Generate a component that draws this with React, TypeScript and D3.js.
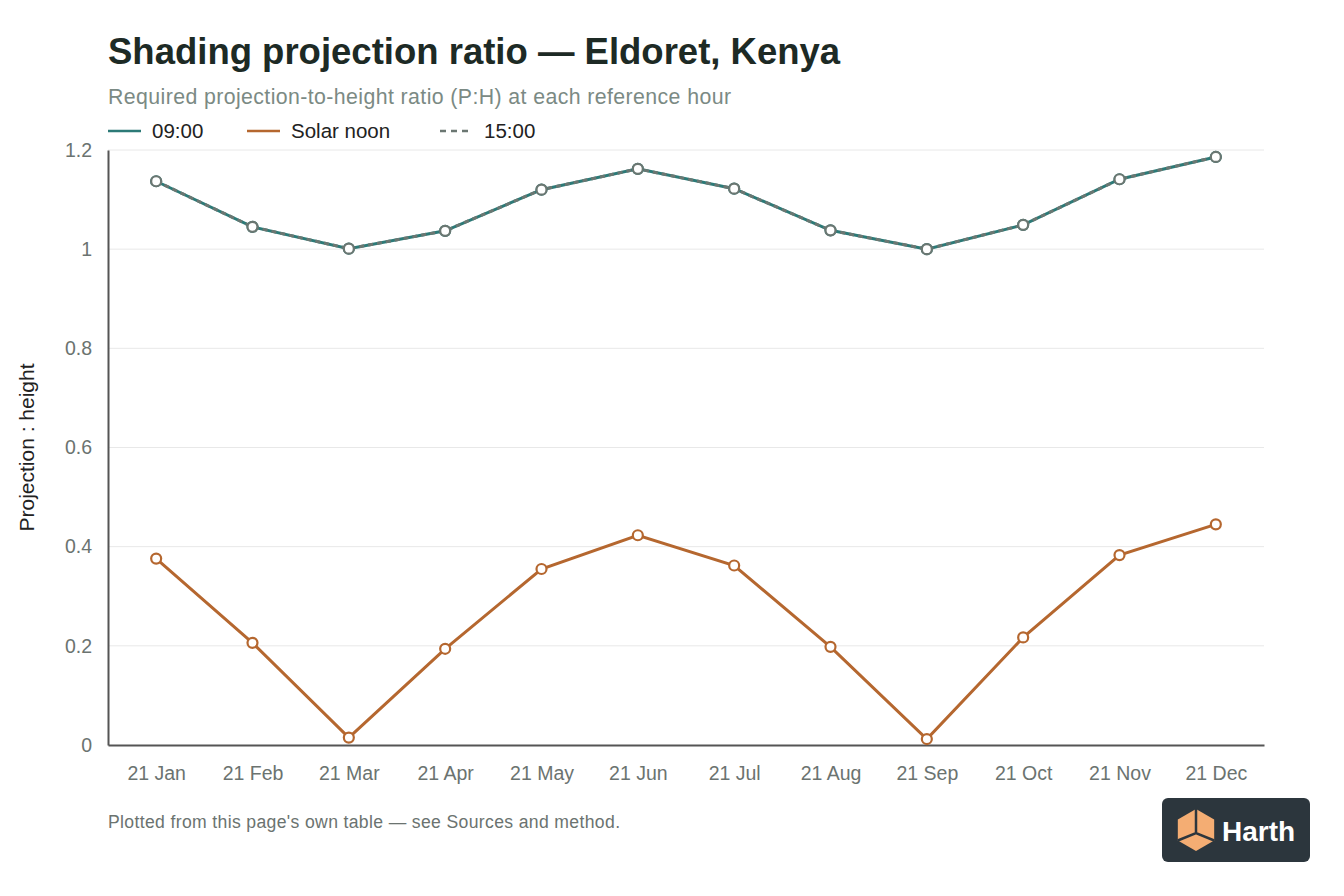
import { useEffect, useRef } from 'react'
import * as d3 from 'd3'

const MONTHS = ['21 Jan', '21 Feb', '21 Mar', '21 Apr', '21 May', '21 Jun', '21 Jul', '21 Aug', '21 Sep', '21 Oct', '21 Nov', '21 Dec']
const MORNING = [1.137, 1.045, 1.001, 1.037, 1.12, 1.162, 1.122, 1.038, 1.0, 1.049, 1.141, 1.186]
const NOON = [0.376, 0.206, 0.015, 0.194, 0.355, 0.423, 0.362, 0.198, 0.012, 0.217, 0.383, 0.445]
const AFTERNOON = [1.137, 1.045, 1.001, 1.037, 1.12, 1.162, 1.122, 1.038, 1.0, 1.049, 1.141, 1.186]
const Y_TICKS = [0, 0.2, 0.4, 0.6, 0.8, 1, 1.2]

const W = 1344
const H = 896
const FONT = '"Liberation Sans", Arial, Helvetica, sans-serif'

export default function App() {
  const svgRef = useRef<SVGSVGElement>(null)

  useEffect(() => {
    const svg = svgRef.current
    if (!svg) return
    const sel = d3.select(svg)
    sel.selectAll('*').remove()

    const m = { top: 150, left: 108, right: 1264, bottom: 745 }
    const x = d3.scalePoint<string>().domain(MONTHS).range([m.left, m.right]).padding(0.5)
    const y = d3.scaleLinear().domain([0, 1.2]).range([m.bottom, m.top])

    // 제목
    sel.append('text').attr('x', 108).attr('y', 64)
      .attr('font-family', FONT).attr('font-size', 36.5).attr('font-weight', 700)
      .attr('fill', '#1d2a25').text('Shading projection ratio — Eldoret, Kenya')
    sel.append('text').attr('x', 108).attr('y', 104)
      .attr('font-family', FONT).attr('font-size', 21.3).attr('letter-spacing', 0.4)
      .attr('fill', '#7b8a84').text('Required projection-to-height ratio (P:H) at each reference hour')

    // 범례
    const legend = [
      { name: '09:00', color: '#2c7a77', dash: null as string | null, x: 108 },
      { name: 'Solar noon', color: '#b5672f', dash: null, x: 247 },
      { name: '15:00', color: '#6b7772', dash: '6,5', x: 440 },
    ]
    legend.forEach(l => {
      sel.append('line').attr('x1', l.x).attr('x2', l.x + 33).attr('y1', 131).attr('y2', 131)
        .attr('stroke', l.color).attr('stroke-width', 2.5)
        .attr('stroke-dasharray', l.dash)
      sel.append('text').attr('x', l.x + 44).attr('y', 138)
        .attr('font-family', FONT).attr('font-size', 20.5).attr('fill', '#222')
        .text(l.name)
    })

    // 그리드
    Y_TICKS.forEach(t => {
      if (t === 0) return
      sel.append('line').attr('x1', m.left).attr('x2', m.right).attr('y1', y(t)).attr('y2', y(t))
        .attr('stroke', '#e8e8e8').attr('stroke-width', 1)
    })

    // y축
    sel.append('g').attr('transform', `translate(${m.left},0)`)
      .call(d3.axisLeft(y).tickValues(Y_TICKS).tickSize(0).tickPadding(16).tickFormat(d => `${d}`))
      .call(ag => {
        ag.select('.domain').attr('stroke', '#555').attr('stroke-width', 2)
        ag.selectAll('text').attr('fill', '#6b7370').attr('font-size', 19.5).attr('font-family', FONT)
      })

    // x축
    sel.append('g').attr('transform', `translate(0,${m.bottom})`)
      .call(d3.axisBottom(x).tickSize(0).tickPadding(21))
      .call(ag => {
        ag.select('.domain').attr('stroke', '#555').attr('stroke-width', 2)
        ag.selectAll('text').attr('fill', '#6b7370').attr('font-size', 19.5).attr('font-family', FONT)
      })

    sel.append('text')
      .attr('transform', `translate(34,${(m.top + m.bottom) / 2}) rotate(-90)`)
      .attr('text-anchor', 'middle')
      .attr('font-family', FONT).attr('font-size', 21).attr('fill', '#222')
      .text('Projection : height')

    // 시리즈
    const series = [
      { values: MORNING, color: '#2c7a77', dash: null as string | null },
      { values: NOON, color: '#b5672f', dash: null },
      { values: AFTERNOON, color: '#6b7772', dash: '5,4' },
    ]
    const line = d3.line<number>().x((_, i) => x(MONTHS[i])!).y(d => y(d))
    series.forEach(s => {
      sel.append('path').datum(s.values)
        .attr('fill', 'none').attr('stroke', s.color).attr('stroke-width', 3)
        .attr('stroke-dasharray', s.dash).attr('d', line)
    })
    series.forEach(s => {
      sel.append('g').selectAll('circle').data(s.values).join('circle')
        .attr('cx', (_, i) => x(MONTHS[i])!).attr('cy', d => y(d)).attr('r', 5)
        .attr('fill', '#fff').attr('stroke', s.color).attr('stroke-width', 2.2)
    })

    // 출처
    sel.append('text').attr('x', 108).attr('y', 828)
      .attr('font-family', FONT).attr('font-size', 17.6).attr('letter-spacing', 0.35).attr('fill', '#6b7370')
      .text("Plotted from this page's own table — see Sources and method.")

    // 로고
    const logo = sel.append('g').attr('transform', 'translate(1162,798)')
    logo.append('rect').attr('width', 148).attr('height', 64).attr('rx', 6).attr('fill', '#2c363d')
    const cx = 34, cy = 32, r = 21
    const hex = d3.range(6).map(k => {
      const a = (Math.PI / 3) * k - Math.PI / 2
      return [cx + r * Math.cos(a), cy + r * Math.sin(a)] as [number, number]
    })
    logo.append('path').attr('d', 'M' + hex.map(p => p.join(',')).join('L') + 'Z').attr('fill', '#f4ad73')
    logo.append('path')
      .attr('d', `M${cx},${cy - r}L${cx},${cy + 3}M${hex[2][0]},${hex[2][1]}L${cx},${cy + 3}L${hex[4][0]},${hex[4][1]}`)
      .attr('stroke', '#2c363d').attr('stroke-width', 2.5).attr('fill', 'none')
    logo.append('text').attr('x', 60).attr('y', 43)
      .attr('font-family', FONT).attr('font-size', 28).attr('font-weight', 700)
      .attr('fill', '#fff').text('Harth')
  }, [])

  return (
    <svg
      ref={svgRef}
      width={W}
      height={H}
      style={{ display: 'block', position: 'absolute', left: 0, top: 0 }}
    />
  )
}
